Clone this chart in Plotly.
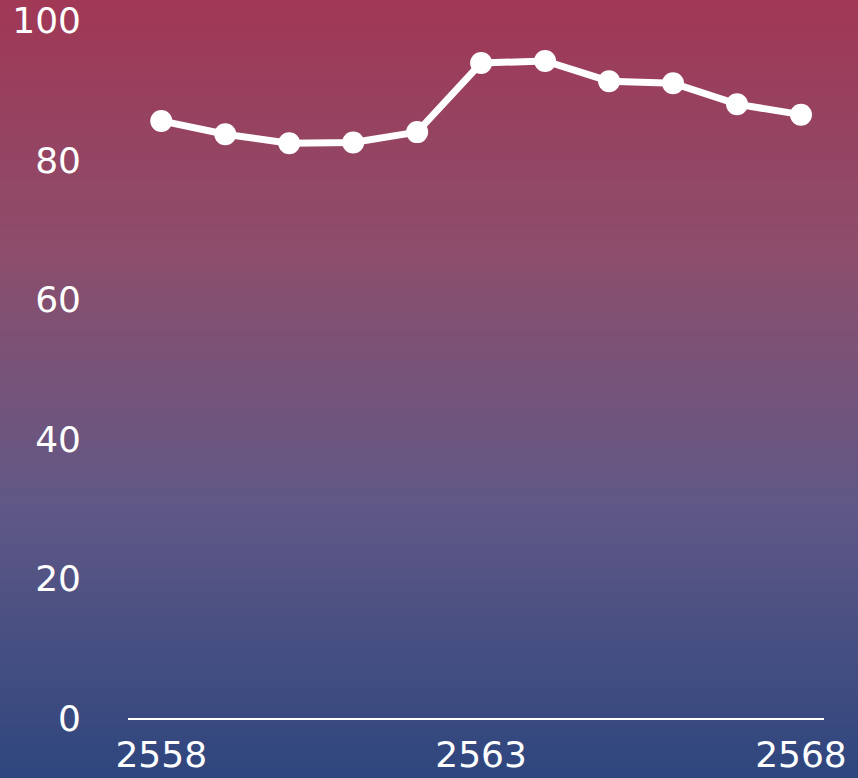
import plotly.graph_objects as go

years = [2558, 2559, 2560, 2561, 2562, 2563, 2564, 2565, 2566, 2567, 2568]
values = [85.6, 83.7, 82.4, 82.5, 84.0, 93.9, 94.2, 91.3, 91.0, 88.0, 86.5]
x_ticks = [2558, 2563, 2568]
y_ticks = [0, 20, 40, 60, 80, 100]

W, H = 858, 778
stops = [(0.0, (160, 56, 86)), (0.33, (140, 78, 108)), (0.65, (96, 88, 134)), (1.0, (46, 70, 126))]

def col(t):
    for (a, ca), (b, cb) in zip(stops[:-1], stops[1:]):
        if a <= t <= b:
            f = (t - a) / (b - a)
            c = [round(ca[i] + (cb[i] - ca[i]) * f) for i in range(3)]
            return f"rgb({c[0]},{c[1]},{c[2]})"
    return "rgb(46,70,126)"

ml, mr, mt, mb = 128, 34, 7, 60
ph = H - mt - mb
ytop = ph / 6.975
shapes = []
n = 260
for i in range(n):
    top_px = i * H / n - (0.5 if i == 0 else 0)
    bot_px = (i + 1) * H / n + 0.6
    y1 = 1 - (top_px - mt) / ph
    y0 = 1 - (bot_px - mt) / ph
    shapes.append(dict(type="rect", xref="paper", yref="paper", x0=-0.3, x1=1.2, y0=y0, y1=y1,
                       fillcolor=col((i + 0.5) / n), line=dict(width=0), layer="below"))

fig = go.Figure(go.Scatter(
    x=years, y=values, mode="lines+markers",
    line=dict(color="white", width=7),
    marker=dict(color="white", size=22),
    cliponaxis=False,
))

fig.update_layout(
    width=W, height=H,
    margin=dict(l=ml, r=mr, t=mt, b=mb, autoexpand=False),
    paper_bgcolor="rgb(100,80,120)", plot_bgcolor="rgba(0,0,0,0)",
    shapes=shapes, showlegend=False,
    font=dict(family="DejaVu Sans", color="white", size=36),
)
fig.update_xaxes(range=[2557.48, 2568.36], tickvals=x_ticks, showgrid=False, zeroline=False,
                 showline=True, linecolor="white", linewidth=2, ticks="", ticklabelstandoff=4,
                 automargin=False)
fig.update_yaxes(range=[0, ytop], tickvals=y_ticks, showgrid=False, zeroline=False,
                 showline=False, ticks="", ticklabelstandoff=46, automargin=False)

fig.write_html("out.html", config={"displayModeBar": False},
               post_script="document.body.style.margin='0';document.body.style.padding='0';")
